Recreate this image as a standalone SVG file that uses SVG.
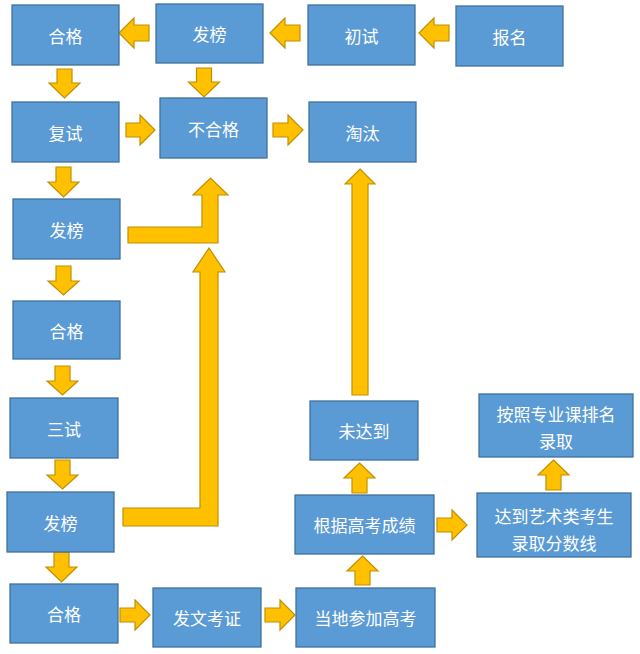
<svg xmlns="http://www.w3.org/2000/svg" width="640" height="654" viewBox="0 0 640 654">
<style>
.box{fill:#5B9BD5;stroke:#41719C;stroke-width:1.3}
.t{fill:#FFFFFF;font-family:"Noto Sans CJK SC","Noto Sans",sans-serif;font-size:17px;text-anchor:middle;dominant-baseline:central}
.arr{fill:#FFC000;stroke:#C09000;stroke-width:1.2;stroke-linejoin:miter}
</style>
<rect width="640" height="654" fill="#FFFFFF"/>
<g id="connectors">
<!-- left arrows -->
<polygon class="arr" points="119,33 134,18 134,25 149,25 149,41 134,41 134,48"/>
<polygon class="arr" points="270,33 285,18 285,25 300,25 300,41 285,41 285,48"/>
<polygon class="arr" points="419,33 434,18 434,25 449,25 449,41 434,41 434,48"/>
<!-- right arrows -->
<polygon class="arr" points="126,123 140,123 140,115 155,130 140,145 140,137 126,137"/>
<polygon class="arr" points="273,123 288,123 288,115 303,130 288,145 288,137 273,137"/>
<polygon class="arr" points="120,608 135,608 135,600 150,615 135,630 135,622 120,622"/>
<polygon class="arr" points="265,608 280,608 280,600 295,615 280,630 280,622 265,622"/>
<polygon class="arr" points="437,518 452,518 452,510 467,525 452,540 452,532 437,532"/>
<!-- down arrows -->
<polygon class="arr" points="57,69 72,69 72,83 80,83 64.5,98 49,83 57,83"/>
<polygon class="arr" points="196.5,68 211.5,68 211.5,82 219.5,82 204,97 188.5,82 196.5,82"/>
<polygon class="arr" points="56,167 71,167 71,182 79,182 63.5,197 48,182 56,182"/>
<polygon class="arr" points="56,266 71,266 71,281 79,281 63.5,295 48,281 56,281"/>
<polygon class="arr" points="55,366 70,366 70,381 78,381 62.5,395 47,381 55,381"/>
<polygon class="arr" points="55,460 70,460 70,475 78,475 62.5,489 47,475 55,475"/>
<polygon class="arr" points="54,552 69,552 69,567 77,567 61.5,582 46,567 54,567"/>
<!-- up arrows -->
<polygon class="arr" points="362.5,556 378,571 370,571 370,585 355,585 355,571 347,571"/>
<polygon class="arr" points="359.5,463 375,478 367,478 367,493 352,493 352,478 344,478"/>
<polygon class="arr" points="553.5,460 569,475 561,475 561,490 546,490 546,475 538,475"/>
<polygon class="arr" points="360,169 375,184 368,184 368,395 352,395 352,184 345,184"/>
<!-- bent arrows -->
<polygon class="arr" points="128,227 202,227 202,195 193,195 210.5,178 228,195 218,195 218,243 128,243"/>
<polygon class="arr" points="123,508 200,508 200,272 193,272 209,248 225,272 218,272 218,526 123,526"/>
</g>
<g id="n-hege1"><rect class="box" x="12" y="5" width="107" height="60"/><text class="t" x="65.5" y="35">合格</text></g>
<g id="n-fabang1"><rect class="box" x="156" y="4" width="107" height="59"/><text class="t" x="209.5" y="33.5">发榜</text></g>
<g id="n-chushi"><rect class="box" x="308" y="5" width="107" height="60"/><text class="t" x="361.5" y="35">初试</text></g>
<g id="n-baoming"><rect class="box" x="456" y="6" width="107" height="60"/><text class="t" x="509.5" y="36">报名</text></g>
<g id="n-fushi"><rect class="box" x="12" y="102" width="107" height="60"/><text class="t" x="65.5" y="132">复试</text></g>
<g id="n-buhege"><rect class="box" x="160" y="98" width="107" height="60"/><text class="t" x="213.5" y="128">不合格</text></g>
<g id="n-taotai"><rect class="box" x="309" y="102" width="107" height="60"/><text class="t" x="362.5" y="132">淘汰</text></g>
<g id="n-fabang2"><rect class="box" x="13" y="199" width="107" height="60"/><text class="t" x="66.5" y="229">发榜</text></g>
<g id="n-hege2"><rect class="box" x="13" y="301" width="107" height="58"/><text class="t" x="66.5" y="330">合格</text></g>
<g id="n-sanshi"><rect class="box" x="10" y="398" width="108" height="60"/><text class="t" x="64" y="428">三试</text></g>
<g id="n-fabang3"><rect class="box" x="7" y="492" width="107" height="60"/><text class="t" x="60.5" y="522">发榜</text></g>
<g id="n-hege3"><rect class="box" x="10" y="584" width="108" height="59"/><text class="t" x="64" y="613.5">合格</text></g>
<g id="n-fawen"><rect class="box" x="153" y="588" width="108" height="59"/><text class="t" x="207" y="617.5">发文考证</text></g>
<g id="n-dangdi"><rect class="box" x="296" y="588" width="139" height="59"/><text class="t" x="365.5" y="617.5">当地参加高考</text></g>
<g id="n-genju"><rect class="box" x="295" y="495" width="139" height="59"/><text class="t" x="364.5" y="524.5">根据高考成绩</text></g>
<g id="n-weidadao"><rect class="box" x="310" y="401" width="108" height="59"/><text class="t" x="364" y="430.5">未达到</text></g>
<g id="n-dadao"><rect class="box" x="477" y="493" width="154" height="64"/><text class="t" x="554" y="515">达到艺术类考生</text><text class="t" x="554" y="542">录取分数线</text></g>
<g id="n-anzhao"><rect class="box" x="479" y="394" width="154" height="63"/><text class="t" x="556" y="413">按照专业课排名</text><text class="t" x="556" y="440">录取</text></g>
</svg>
